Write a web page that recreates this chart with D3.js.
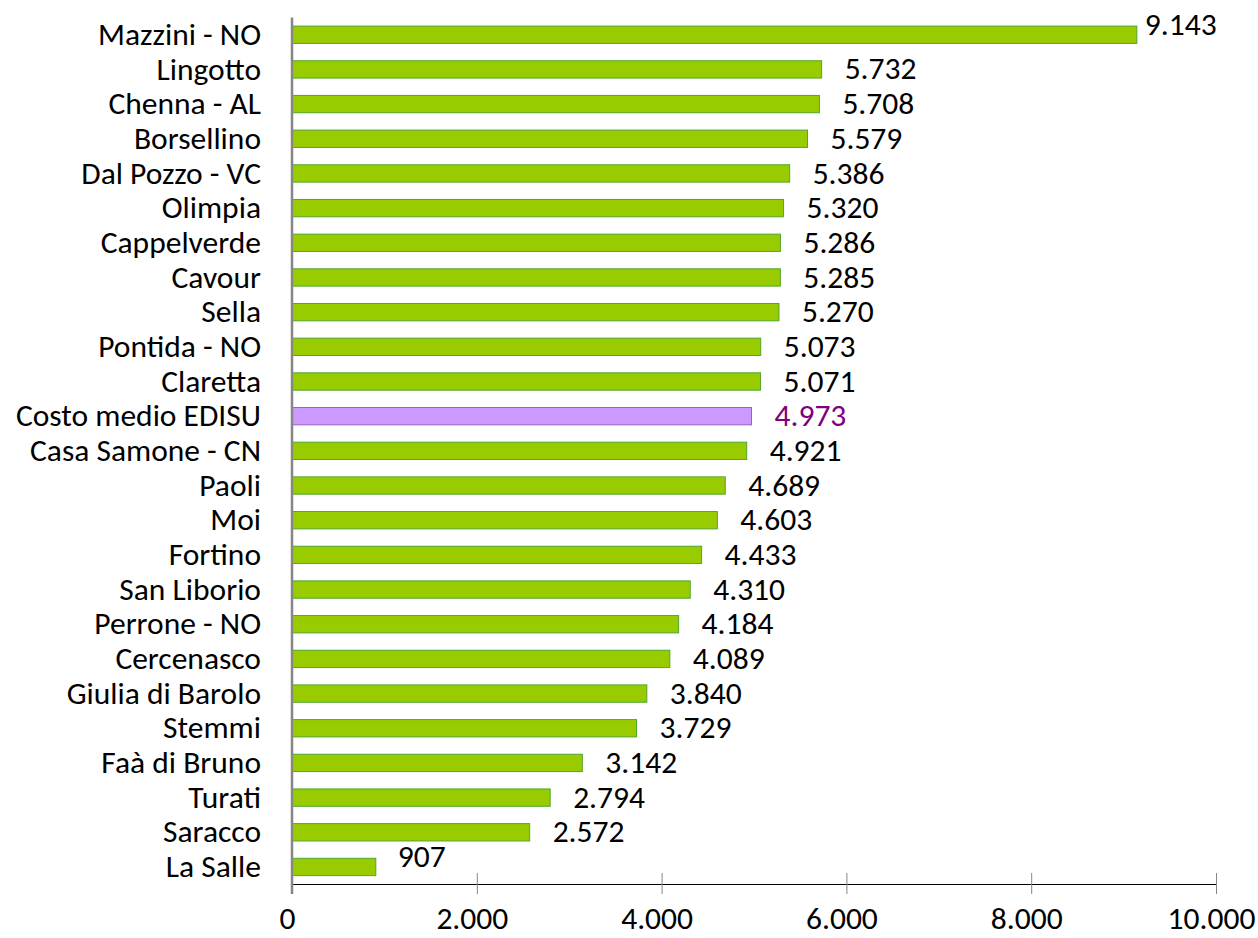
<!DOCTYPE html>
<html>
<head>
<meta charset="utf-8">
<script src="https://cdn.jsdelivr.net/npm/d3@7"></script>
<style>
  html, body { margin: 0; padding: 0; background: #fff; }
  svg { display: block; }
  text { font-family: Carlito, Lato, "Open Sans", sans-serif; }
</style>
</head>
<body>
<svg id="chart" width="1258" height="938"></svg>
<script>
const categories = ["Mazzini - NO","Lingotto","Chenna - AL","Borsellino","Dal Pozzo - VC","Olimpia","Cappelverde","Cavour","Sella","Pontida - NO","Claretta","Costo medio EDISU","Casa Samone - CN","Paoli","Moi","Fortino","San Liborio","Perrone - NO","Cercenasco","Giulia di Barolo","Stemmi","Faà di Bruno","Turati","Saracco","La Salle"];
const values = [9143,5732,5708,5579,5386,5320,5286,5285,5270,5073,5071,4973,4921,4689,4603,4433,4310,4184,4089,3840,3729,3142,2794,2572,907];
const highlight = ["Costo medio EDISU"];
const xTicks = [0,2000,4000,6000,8000,10000];

const it = d3.formatLocale({decimal: ",", thousands: ".", grouping: [3], currency: ["", " €"]});
const fmt = it.format(",d");

const svg = d3.select("#chart");
const FS = 31.5;

const x = d3.scaleLinear().domain([0, 10000]).range([292, 1216]);
const y = d3.scaleBand().domain(categories).range([17.4, 884.3]).paddingInner(0.5).paddingOuter(0.25);

const data = categories.map((c, i) => ({c, v: values[i], i}));

// bars
svg.append("g").selectAll("rect").data(data).join("rect")
  .attr("x", x(0))
  .attr("y", d => y(d.c))
  .attr("width", d => x(d.v) - x(0))
  .attr("height", y.bandwidth())
  .attr("fill", d => highlight.includes(d.c) ? "#CC99FF" : "#99CC00")
  .attr("stroke", d => highlight.includes(d.c) ? "#9E5FC8" : "#4EA72E")
  .attr("stroke-width", 1);

// value labels
svg.append("g").selectAll("text").data(data).join("text")
  .attr("x", d => x(d.v) + (d.i === 0 ? 8 : (d.i === data.length - 1 ? 22 : 23)))
  .attr("y", d => y(d.c) + y.bandwidth() / 2 + ((d.i === 0 || d.i === data.length - 1) ? -10 : 0))
  .attr("dy", "0.32em")
  .attr("font-size", FS)
  .attr("fill", d => highlight.includes(d.c) ? "#800080" : "#000")
  .text(d => fmt(d.v));

// x axis
const xAxis = svg.append("g")
  .attr("transform", "translate(0,884)")
  .call(d3.axisBottom(x).tickValues(xTicks).tickFormat(fmt).tickSize(10).tickPadding(30));
xAxis.select(".domain").attr("stroke", "#000").attr("stroke-width", 1).attr("d", `M${x(0)},0.5H${x(10000)}`);
xAxis.selectAll(".tick line").attr("stroke", "#868686").attr("y1", -11).attr("y2", 10);
xAxis.selectAll(".tick text").attr("font-size", FS).attr("fill", "#000").attr("dx", -5).attr("dy", 0).attr("y", 45);

// y axis
const yAxis = svg.append("g")
  .attr("transform", `translate(${x(0)},0)`)
  .call(d3.axisLeft(y).tickSize(0).tickPadding(31));
yAxis.select(".domain").attr("stroke", "#868686").attr("stroke-width", 2.5).attr("d", `M0,17.4V894`);
yAxis.selectAll(".tick text").attr("font-size", FS).attr("fill", "#000");
yAxis.raise();
</script>
</body>
</html>
